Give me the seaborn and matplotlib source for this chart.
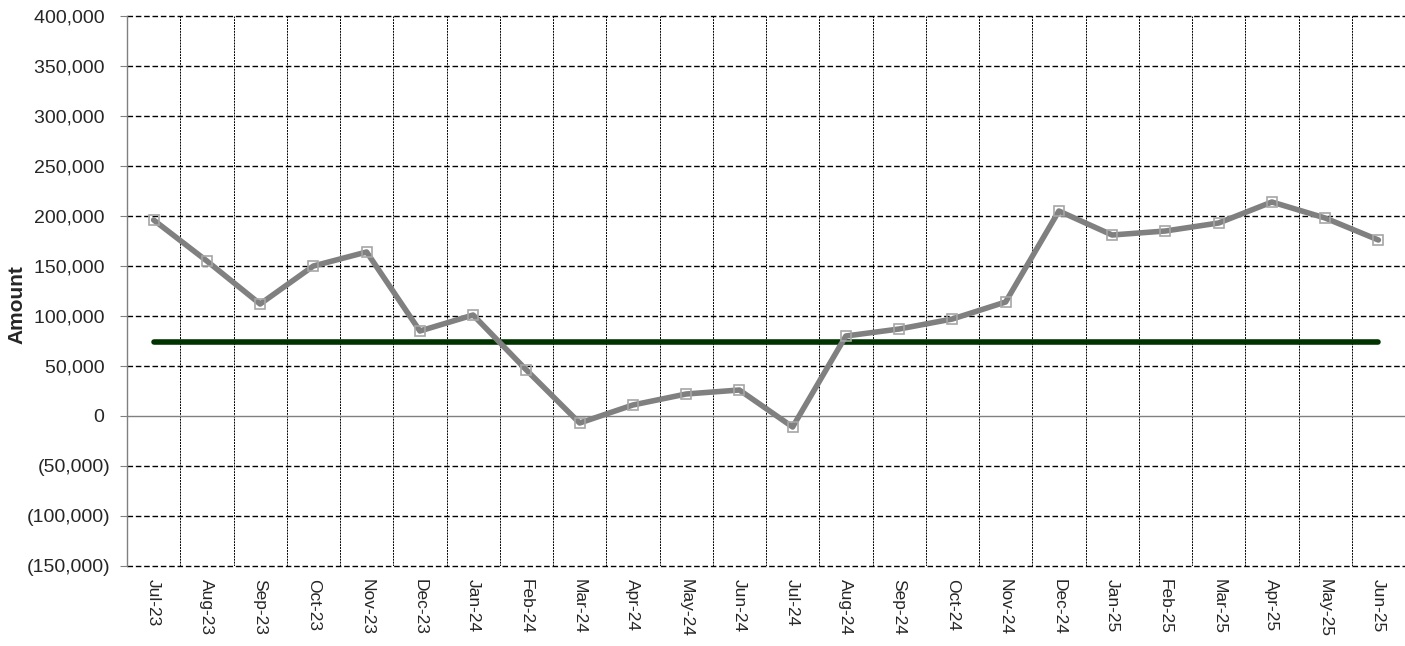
import matplotlib
matplotlib.use("Agg")
import matplotlib.pyplot as plt
import matplotlib.ticker as mticker
import seaborn as sns
import pandas as pd

months = ["Jul-23", "Aug-23", "Sep-23", "Oct-23", "Nov-23", "Dec-23",
          "Jan-24", "Feb-24", "Mar-24", "Apr-24", "May-24", "Jun-24",
          "Jul-24", "Aug-24", "Sep-24", "Oct-24", "Nov-24", "Dec-24",
          "Jan-25", "Feb-25", "Mar-25", "Apr-25", "May-25", "Jun-25"]
amount = [196000, 155000, 112000, 150000, 164000, 85000,
          101000, 46000, -7000, 11000, 22000, 26000,
          -11000, 80000, 87000, 97000, 114000, 205000,
          181000, 185000, 193000, 214000, 198000, 176000]
target = 74000

y_ticks = list(range(-150000, 400001, 50000))

df = pd.DataFrame({"month": months, "amount": amount, "target": [target] * len(months)})
df["pos"] = range(len(months))

sns.set_style("white")
plt.rcParams["font.family"] = ["Liberation Sans", "DejaVu Sans"]

fig = plt.figure(figsize=(14.05, 6.46), dpi=100)
ax = fig.add_axes([127 / 1405, 80 / 646, 1278 / 1405, 550 / 646])

# grid lines drawn by hand: dashed horizontals, finer dotted verticals
for y in y_ticks:
    if y == 0:
        continue
    ax.axhline(y, color="black", lw=1.0, ls=(0, (4, 2)), zorder=0, clip_on=False)
for i in range(len(months)):
    ax.axvline(i + 0.5, color="black", lw=0.7, ls=(0, (2, 1)), zorder=0)
ax.axhline(0, color="#808080", lw=1.0, zorder=1)

sns.lineplot(data=df, x="pos", y="target", ax=ax, color="#003300", lw=4.0,
             solid_capstyle="round", zorder=2)
sns.lineplot(data=df, x="pos", y="amount", ax=ax, color="#808080", lw=4.0,
             marker="s", markersize=6.5, markerfacecolor="none",
             markeredgecolor="#a6a6a6", markeredgewidth=1.2, zorder=3)

ax.set_xlim(-0.5, len(months) - 0.5)
ax.set_ylim(-150000, 400000)
ax.set_yticks(y_ticks)
# negatives in brackets, positives padded so the digits line up
ax.yaxis.set_major_formatter(mticker.FuncFormatter(
    lambda v, p: f"({abs(v):,.0f})" if v < 0 else f"{v:,.0f} "))
ax.set_xticks(df["pos"])
ax.set_xticklabels(months, rotation=270, fontsize=12.5)
ax.tick_params(axis="y", labelsize=14, left=True, length=5, width=0.8,
               color="#808080", pad=7)
ax.tick_params(axis="x", bottom=False, pad=6)

ax.set_xlabel("")
ax.set_ylabel("Amount", fontsize=15, fontweight="bold")
ax.yaxis.set_label_coords(-0.079, 0.476)

for s in ["top", "right", "bottom"]:
    ax.spines[s].set_visible(False)
ax.spines["left"].set_color("#808080")
ax.spines["left"].set_linewidth(1.0)

fig.savefig("out.png", dpi=100)
